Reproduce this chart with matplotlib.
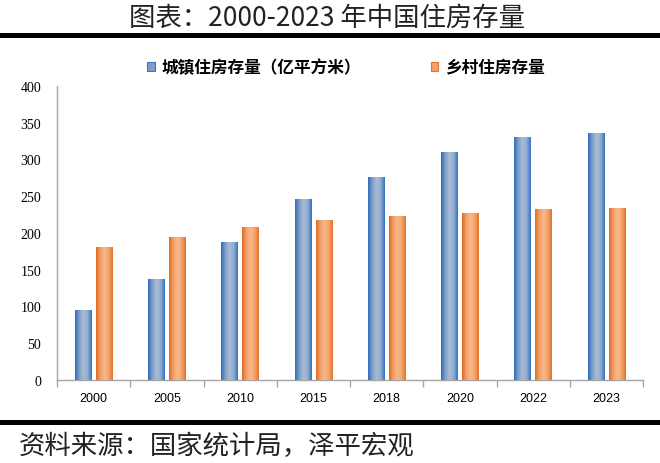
import matplotlib
matplotlib.use("Agg")
import matplotlib.pyplot as plt
from matplotlib.patches import Patch
from matplotlib.colors import LinearSegmentedColormap
from matplotlib.lines import Line2D
import numpy as np

plt.rcParams['font.family'] = ['Noto Sans CJK SC', 'DejaVu Sans']

# data
years = ['2000', '2005', '2010', '2015', '2018', '2020', '2022', '2023']
urban = [95, 137, 187, 245, 276, 309, 330, 335]
rural = [180, 194, 207, 217, 222, 227, 232, 234]
urban_label = '城镇住房存量（亿平方米）'
rural_label = '乡村住房存量'
y_ticks = [0, 50, 100, 150, 200, 250, 300, 350, 400]

BAR_W = 0.225
OFFSET = 0.143

blue_cmap = LinearSegmentedColormap.from_list(
    'b', ['#2f6cbf', '#7f9fc8', '#a9bcd4', '#94aed0', '#3272c4'])
orange_cmap = LinearSegmentedColormap.from_list(
    'o', ['#e06a20', '#f3a06a', '#f9b889', '#f4a46d', '#e3742a'])
grad = np.linspace(0, 1, 64).reshape(1, -1)

fig = plt.figure(figsize=(6.6, 4.64), dpi=100)
ax = fig.add_axes([57/660, 1-381/464, (643-57)/660, (381-87)/464])

x = np.arange(len(years))


def gradient_bars(xs, vals, cmap):
    bars = ax.bar(xs, vals, width=BAR_W, color=cmap(0.5), linewidth=0, zorder=2)
    for b in bars:
        x0 = b.get_x()
        ax.imshow(grad, cmap=cmap, aspect='auto', interpolation='bilinear',
                  extent=(x0, x0 + b.get_width(), 0, b.get_height()), zorder=3)
    return bars


gradient_bars(x - OFFSET, urban, blue_cmap)
gradient_bars(x + OFFSET, rural, orange_cmap)

ax.set_xlim(-0.5, len(years) - 0.5)
ax.set_ylim(0, 400)
ax.set_yticks(y_ticks)
ax.set_yticklabels([str(v) for v in y_ticks], fontsize=10, family='Liberation Serif')
ax.tick_params(axis='y', length=0, pad=11.5)

ax.set_xticks(np.arange(len(years) + 1) - 0.5)
ax.set_xticklabels([])
ax.set_xticks(x, minor=True)
ax.set_xticklabels(years, minor=True, fontsize=9, family='Liberation Sans')
ax.tick_params(axis='x', which='major', length=5, color='#a6a6a6', width=1)
ax.tick_params(axis='x', which='minor', length=0, pad=9)

for s in ['top', 'right']:
    ax.spines[s].set_visible(False)
for s in ['left', 'bottom']:
    ax.spines[s].set_color('#a6a6a6')
    ax.spines[s].set_linewidth(1)

# legend
handles = [Patch(facecolor='#7f9fc8', edgecolor='#3a74c0', linewidth=0.8),
           Patch(facecolor='#f3a06a', edgecolor='#e3742a', linewidth=0.8)]
ax.legend(handles, [urban_label, rural_label], ncol=2, frameon=False,
          loc='center', bbox_to_anchor=(346/660, 1-68/464),
          bbox_transform=fig.transFigure, handlelength=0.45, handleheight=0.45,
          handletextpad=0.4, columnspacing=4.2,
          prop={'size': 12, 'weight': 'bold', 'family': ['Noto Sans CJK SC', 'DejaVu Sans']})

# title, rules and source
fig.text(0.495, 1-18/464, '图表：2000-2023 年中国住房存量', fontsize=19,
         ha='center', va='center', color='#222222', fontweight='light')
fig.add_artist(Line2D([0, 1], [1-35.5/464, 1-35.5/464], color='black', lw=3.6,
                      transform=fig.transFigure))
fig.add_artist(Line2D([0, 1], [1-422.5/464, 1-422.5/464], color='black', lw=3.6,
                      transform=fig.transFigure))
fig.text(19/660, 1-446/464, '资料来源：国家统计局，泽平宏观', fontsize=19,
         ha='left', va='center', style='italic', color='#222222', fontweight='light')

fig.savefig('out.png', dpi=100)
